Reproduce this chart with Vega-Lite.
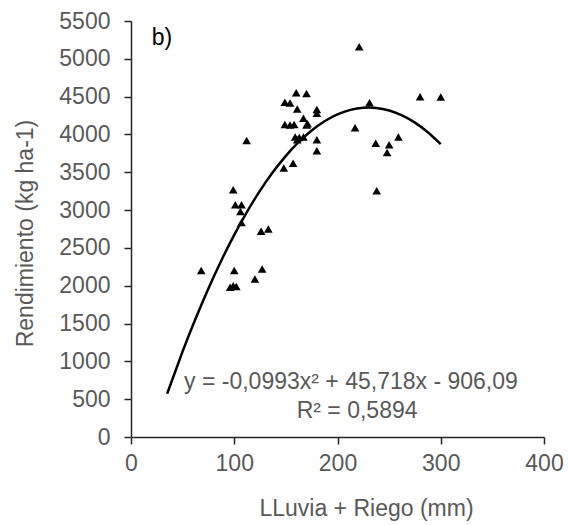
{
  "$schema": "https://vega.github.io/schema/vega-lite/v6.json",
  "width": 413,
  "height": 416,
  "autosize": {"type": "none"},
  "padding": {"left": 131, "top": 21, "right": 24, "bottom": 88},
  "background": "white",
  "config": {
    "view": {"stroke": null},
    "font": "Liberation Sans",
    "axis": {
      "grid": false,
      "domainColor": "#262626",
      "domainWidth": 1.5,
      "tickColor": "#262626",
      "tickWidth": 1.5,
      "tickSize": 7,
      "labelFont": "Liberation Sans",
      "labelFontSize": 23,
      "labelColor": "#595959",
      "labelOverlap": false,
      "labelFlush": false,
      "labelBound": false,
      "titleFont": "Liberation Sans",
      "titleFontSize": 23,
      "titleFontWeight": "normal",
      "titleColor": "#595959"
    }
  },
  "datasets": {
    "pts": [
      {"lluvia": 68, "rend": 2200},
      {"lluvia": 100, "rend": 2200},
      {"lluvia": 96, "rend": 1980},
      {"lluvia": 99, "rend": 2000},
      {"lluvia": 102, "rend": 1990},
      {"lluvia": 120, "rend": 2090},
      {"lluvia": 127, "rend": 2220},
      {"lluvia": 126, "rend": 2720},
      {"lluvia": 133, "rend": 2750},
      {"lluvia": 107, "rend": 2835},
      {"lluvia": 106, "rend": 2980},
      {"lluvia": 101, "rend": 3070},
      {"lluvia": 107, "rend": 3070},
      {"lluvia": 99, "rend": 3270},
      {"lluvia": 112, "rend": 3920},
      {"lluvia": 148, "rend": 3555},
      {"lluvia": 157, "rend": 3620},
      {"lluvia": 160, "rend": 4550},
      {"lluvia": 170, "rend": 4540},
      {"lluvia": 149, "rend": 4425},
      {"lluvia": 154, "rend": 4415},
      {"lluvia": 161, "rend": 4335},
      {"lluvia": 180, "rend": 4330},
      {"lluvia": 180, "rend": 4280},
      {"lluvia": 167, "rend": 4215},
      {"lluvia": 171, "rend": 4140},
      {"lluvia": 149, "rend": 4130},
      {"lluvia": 154, "rend": 4125},
      {"lluvia": 158, "rend": 4130},
      {"lluvia": 170, "rend": 4125},
      {"lluvia": 159, "rend": 3965},
      {"lluvia": 163, "rend": 3960},
      {"lluvia": 167, "rend": 3965},
      {"lluvia": 161, "rend": 3930},
      {"lluvia": 180, "rend": 3930},
      {"lluvia": 180, "rend": 3785},
      {"lluvia": 221, "rend": 5160},
      {"lluvia": 231, "rend": 4420},
      {"lluvia": 217, "rend": 4090},
      {"lluvia": 237, "rend": 3885},
      {"lluvia": 250, "rend": 3865},
      {"lluvia": 259, "rend": 3965},
      {"lluvia": 248, "rend": 3760},
      {"lluvia": 238, "rend": 3255},
      {"lluvia": 280, "rend": 4500},
      {"lluvia": 300, "rend": 4495}
    ],
    "curve": [
      {"lluvia": 35, "rend": 572.4},
      {"lluvia": 50, "rend": 1131.6},
      {"lluvia": 62.5, "rend": 1563.4},
      {"lluvia": 75, "rend": 1964.2},
      {"lluvia": 87.5, "rend": 2334.0},
      {"lluvia": 100, "rend": 2672.7},
      {"lluvia": 112.5, "rend": 2980.4},
      {"lluvia": 125, "rend": 3257.1},
      {"lluvia": 137.5, "rend": 3502.7},
      {"lluvia": 150, "rend": 3717.4},
      {"lluvia": 162.5, "rend": 3901.0},
      {"lluvia": 175, "rend": 4053.5},
      {"lluvia": 187.5, "rend": 4175.0},
      {"lluvia": 200, "rend": 4265.5},
      {"lluvia": 212.5, "rend": 4325.0},
      {"lluvia": 225, "rend": 4353.4},
      {"lluvia": 237.5, "rend": 4350.8},
      {"lluvia": 250, "rend": 4317.2},
      {"lluvia": 262.5, "rend": 4252.5},
      {"lluvia": 275, "rend": 4156.8},
      {"lluvia": 287.5, "rend": 4030.1},
      {"lluvia": 300, "rend": 3872.3}
    ],
    "one": [{}]
  },
  "layer": [
    {
      "data": {"name": "curve"},
      "mark": {"type": "line", "color": "#000000", "strokeWidth": 2.5, "interpolate": "natural"},
      "encoding": {
        "x": {
          "field": "lluvia", "type": "quantitative",
          "scale": {"domain": [0, 400], "nice": false},
          "axis": {
            "title": "LLuvia + Riego (mm)",
            "values": [0, 100, 200, 300, 400],
            "tickCount": 5,
            "format": "d",
            "labelPadding": 8,
            "titleX": 235,
            "titleY": 78,
            "titleBaseline": "alphabetic"
          }
        },
        "y": {
          "field": "rend", "type": "quantitative",
          "scale": {"domain": [0, 5500], "nice": false},
          "axis": {
            "title": "Rendimiento (kg ha-1)",
            "values": [0, 500, 1000, 1500, 2000, 2500, 3000, 3500, 4000, 4500, 5000, 5500],
            "tickCount": 12,
            "format": "d",
            "labelPadding": 14,
            "titleX": -99,
            "titleY": 212,
            "titleAngle": -90,
            "titleAlign": "center",
            "titleBaseline": "alphabetic"
          }
        }
      }
    },
    {
      "data": {"name": "pts"},
      "mark": {"type": "point", "shape": "triangle-up", "filled": true, "color": "#000000", "opacity": 1, "size": 75},
      "encoding": {
        "x": {"field": "lluvia", "type": "quantitative"},
        "y": {"field": "rend", "type": "quantitative"}
      }
    },
    {
      "data": {"name": "one"},
      "mark": {"type": "text", "text": "b)", "align": "left", "baseline": "alphabetic", "fontSize": 23, "color": "#000000"},
      "encoding": {
        "x": {"datum": 20},
        "y": {"datum": 5182}
      }
    },
    {
      "data": {"name": "one"},
      "mark": {"type": "text", "text": "y = -0,0993x² + 45,718x - 906,09", "align": "center", "baseline": "alphabetic", "fontSize": 23, "color": "#595959"},
      "encoding": {
        "x": {"datum": 213},
        "y": {"datum": 635}
      }
    },
    {
      "data": {"name": "one"},
      "mark": {"type": "text", "text": "R² = 0,5894", "align": "center", "baseline": "alphabetic", "fontSize": 23, "color": "#595959"},
      "encoding": {
        "x": {"datum": 219},
        "y": {"datum": 251}
      }
    }
  ]
}
